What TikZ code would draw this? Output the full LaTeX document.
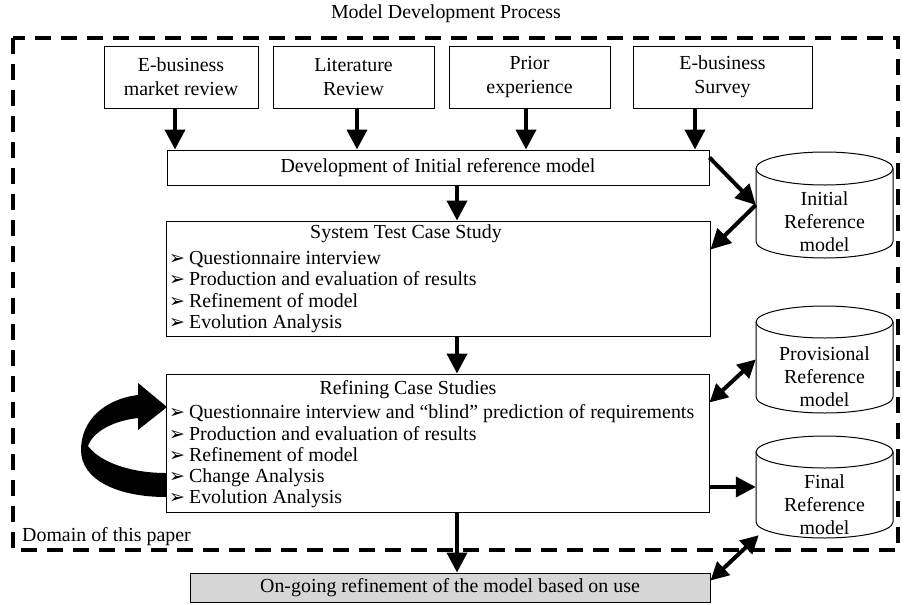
\documentclass[tikz,border=0pt]{standalone}
\usepackage{fontspec}
\setmainfont{Liberation Serif}
\newfontfamily\dingfont{DejaVu Sans}
\usetikzlibrary{arrows.meta,calc}
\newcommand{\bul}{{\dingfont\fontsize{19pt}{19pt}\selectfont ➢}\hspace{4pt}}

\begin{document}
\begin{tikzpicture}[x=1pt,y=-1pt,
	every node/.style={font=\fontsize{19.9pt}{23pt}\selectfont},
	srcbox/.style={draw,line width=1pt,align=center,inner sep=0pt,minimum height=62pt,font=\fontsize{19.9pt}{24pt}\selectfont},
	stagebox/.style={draw,line width=1pt,inner sep=0pt},
	lst/.style={anchor=west,align=left,inner sep=0pt,font=\fontsize{19.9pt}{21.3pt}\selectfont},
	cyl/.style={line width=1pt},
	cyltext/.style={align=center,inner sep=0pt},
	flow/.style={line width=4pt,-{Triangle[length=20pt,width=20pt]}},
	both/.style={line width=4pt,{Triangle[length=18pt,width=18pt]}-{Triangle[length=18pt,width=18pt]}}]
	\useasboundingbox (0,0) rectangle (908,605);
	
	% domain frame
	\draw[line width=3.5pt,dash pattern=on 16pt off 10pt] (13,38) rectangle (898,550);
	\node (title) at (446,14) {Model Development Process};
	\node[anchor=west,inner sep=0pt] (domain) at (22,537) {Domain of this paper};
	
	% sources
	\node[srcbox,minimum width=154pt] (market) at (181,77) {E-business\\market review};
	\node[srcbox,minimum width=161pt] (lit) at (353.5,77) {Literature\\Review};
	\node[srcbox,minimum width=161pt] (prior) at (529.5,77) {Prior\\experience};
	\node[srcbox,minimum width=179pt] (survey) at (722.5,77) {E-business\\Survey};
	
	% stages
	\node[stagebox,minimum width=542pt,minimum height=35pt] (dev) at (438,167.5) {Development of Initial reference model};
	
	\node[stagebox,minimum width=544pt,minimum height=115pt] (sys) at (438,278.5) {};
	\node (systitle) at (406,234) {System Test Case Study};
	\node[lst] (syslist) at (169,292) {\bul Questionnaire interview\\ \bul Production and evaluation of results\\ \bul Refinement of model\\ \bul Evolution Analysis};
	
	\node[stagebox,minimum width=543pt,minimum height=138pt] (ref) at (437.5,443) {};
	\node (reftitle) at (408,390) {Refining Case Studies};
	\node[lst] (reflist) at (169,456.5) {\bul Questionnaire interview and “blind” prediction of requirements\\ \bul Production and evaluation of results\\ \bul Refinement of model\\ \bul Change Analysis\\ \bul Evolution Analysis};
	
	\node[stagebox,fill=black!16,minimum width=520pt,minimum height=29pt] (use) at (450,587.5) {On-going refinement of the model based on use};
	
	% reference models
	\draw[cyl] (756,168.5) -- (756,241.5) arc[start angle=180,end angle=0,x radius=68.5,y radius=16.5] -- (893,168.5);
	\draw[cyl] (824.5,168.5) ellipse[x radius=68.5,y radius=16.5];
	\node[minimum width=137pt,minimum height=106pt,inner sep=0pt] (init) at (824.5,205) {};
	\node[cyltext] (inittext) at (824.5,222) {Initial\\Reference\\model};
	
	\draw[cyl] (756,322) -- (756,397) arc[start angle=180,end angle=0,x radius=68.5,y radius=16] -- (893,322);
	\draw[cyl] (824.5,322) ellipse[x radius=68.5,y radius=16];
	\node[minimum width=137pt,minimum height=107pt,inner sep=0pt] (prov) at (824.5,359.5) {};
	\node[cyltext] (provtext) at (824.5,377) {Provisional\\Reference\\model};
	
	\draw[cyl] (756,452) -- (756,522) arc[start angle=180,end angle=0,x radius=68.5,y radius=16] -- (893,452);
	\draw[cyl] (824.5,452) ellipse[x radius=68.5,y radius=16];
	\node[minimum width=137pt,minimum height=102pt,inner sep=0pt] (fin) at (824.5,487) {};
	\node[cyltext] (fintext) at (824.5,505) {Final\\Reference\\model};
	
	% connectors
	\draw[flow] ([xshift=-6pt]market.south) -- ([xshift=-6pt]market.south |- dev.north);
	\draw[flow] ([xshift=3.5pt]lit.south) -- ([xshift=3.5pt]lit.south |- dev.north);
	\draw[flow] ([xshift=-3.5pt]prior.south) -- ([xshift=-3.5pt]prior.south |- dev.north);
	\draw[flow] ([xshift=-27.5pt]survey.south) -- ([xshift=-27.5pt]survey.south |- dev.north);
	\draw[flow] ([xshift=19pt]dev.south) -- ([xshift=19pt]sys.north);
	\draw[flow] ([xshift=19pt]sys.south) -- ([xshift=19pt]sys.south |- ref.north);
	\draw[flow] ([xshift=19.5pt]ref.south) -- ([xshift=19.5pt]ref.south |- use.north);
	\draw[flow] ([yshift=-8pt]dev.north east) -- (init.west);
	\draw[flow] (init.west) -- ([yshift=-29pt]sys.north east);
	\draw[both] (prov.west) -- ([yshift=-29pt]ref.north east);
	\draw[flow] (ref.east |- fin.west) -- (fin.west);
	\draw[both] ([yshift=7pt]use.east) -- ([xshift=3pt,yshift=3pt]fin.south west);
	
	% loop back into refining
	\fill (166,497) .. controls (118,497) and (81,480) .. (81,450) .. controls (81,420) and (105,399) .. (138,395) -- (138,383) -- (167,407) -- (138,430) -- (138,418) .. controls (112,421) and (93,432) .. (88,446) .. controls (100,462) and (130,473) .. (166,473) -- cycle;
\end{tikzpicture}
\end{document}
